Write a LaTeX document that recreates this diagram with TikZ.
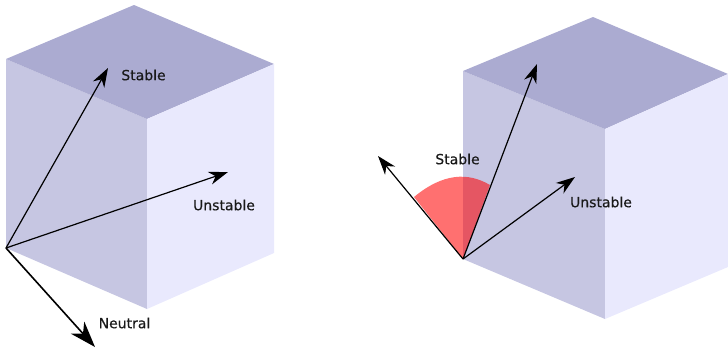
\documentclass[tikz,border=0pt]{standalone}
\usepackage{fontspec}
\setmainfont{DejaVu Sans}
\newfontfamily\lblfont[FakeBold=0.35]{DejaVu Sans}
\usetikzlibrary{arrows.meta}
\definecolor{sideface}{HTML}{C6C6E2}
\definecolor{topface}{HTML}{ABABD1}
\definecolor{rightface}{HTML}{E9E9FD}
\tikzset{
  x=1pt,y=-1pt,
  vec/.style={draw=black,line width=1.2pt,-{Stealth[length=19pt,width=13pt,inset=6pt]}},
  bigvec/.style={draw=black,line width=1.6pt,-{Stealth[length=26pt,width=18pt,inset=8pt]}},
  lbl/.style={inner sep=0pt,font=\lblfont\fontsize{14}{16}\selectfont,text=black!90}
}
\begin{document}
\begin{tikzpicture}
\useasboundingbox (0,0) rectangle (728,349);
% left cube
\fill[sideface] (6,59) -- (147,119) -- (147,309) -- (6,248) -- cycle;
\fill[topface] (134,5) -- (274,64) -- (147,119) -- (6,59) -- cycle;
\fill[rightface] (147,119) -- (274,64) -- (274,253) -- (147,309) -- cycle;
% right cube
\fill[sideface] (463,71) -- (605,129) -- (605,319) -- (463,259) -- cycle;
\fill[topface] (593,17) -- (728,74) -- (605,129) -- (463,71) -- cycle;
\fill[rightface] (605,129) -- (728,74) -- (728,267) -- (605,319) -- cycle;
% sector
\fill[red,fill opacity=0.56] (463,259) -- (414,197)
  .. controls (443,173) and (468,172) .. (490,185) -- cycle;
% left vectors
\coordinate (oa) at (6,248);
\coordinate (as) at (108,68);
\coordinate (au) at (228,172);
\coordinate (an) at (95,347);
\draw[vec] (oa) -- (as);
\draw[vec] (oa) -- (au);
\draw[bigvec] (oa) -- (an);
% right vectors
\coordinate (ob) at (463,259);
\coordinate (bs) at (537,64);
\coordinate (bu) at (575,177);
\coordinate (bn) at (378,156);
\draw[vec] (ob) -- (bs);
\draw[vec] (ob) -- (bu);
\draw[vec] (ob) -- (bn);
% labels
\node[lbl] (l1) at (143.5,75) {Stable};
\node[lbl] (l2) at (224,205) {Unstable};
\node[lbl] (l3) at (124.5,323) {Neutral};
\node[lbl] (l4) at (457.5,159) {Stable};
\node[lbl] (l5) at (601,202) {Unstable};
\end{tikzpicture}
\end{document}
